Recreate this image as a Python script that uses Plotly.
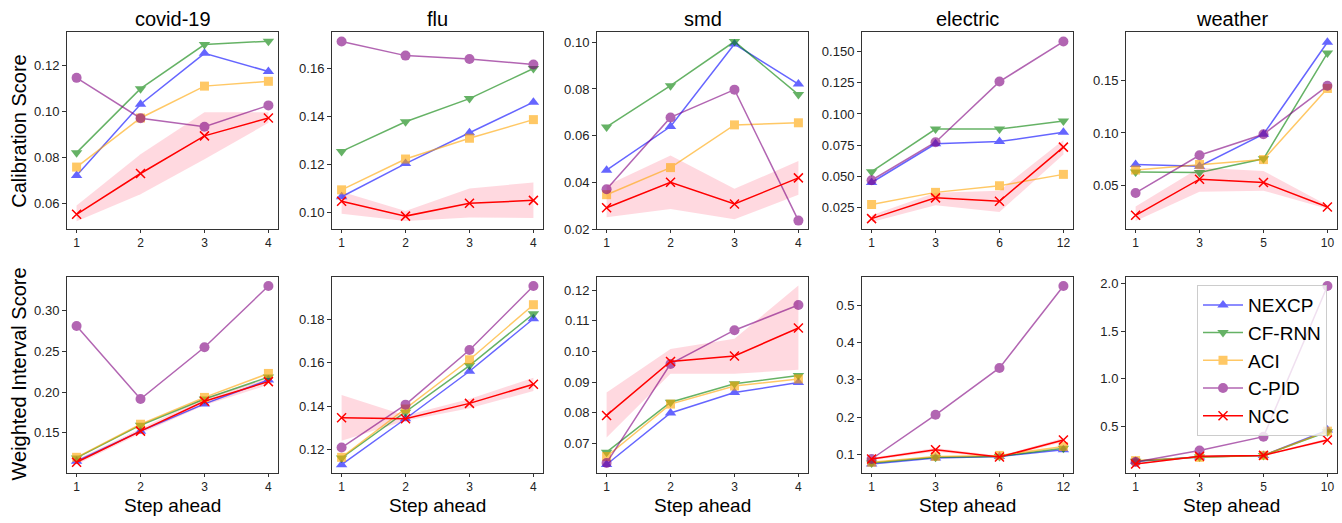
import plotly.graph_objects as go

# ---------------- data ----------------
datasets = ["covid-19", "flu", "smd", "electric", "weather"]
methods = ["NEXCP", "CF-RNN", "ACI", "C-PID", "NCC"]
steps = {
    "covid-19": ["1", "2", "3", "4"],
    "flu": ["1", "2", "3", "4"],
    "smd": ["1", "2", "3", "4"],
    "electric": ["1", "3", "6", "12"],
    "weather": ["1", "3", "5", "10"],
}

# Calibration score
cal_covid = {
    "NEXCP": [0.0720, 0.1031, 0.1253, 0.1174],
    "CF-RNN": [0.0820, 0.1099, 0.1291, 0.1306],
    "ACI": [0.0757, 0.0971, 0.1110, 0.1131],
    "C-PID": [0.1146, 0.0970, 0.0933, 0.1026],
    "NCC": [0.0551, 0.0729, 0.0893, 0.0971],
}
cal_covid_band_hi = [0.0589, 0.0813, 0.0996, 0.0996]
cal_covid_band_lo = [0.0521, 0.0639, 0.0791, 0.0950]

cal_flu = {
    "NEXCP": [0.1064, 0.1203, 0.1332, 0.1460],
    "CF-RNN": [0.1254, 0.1378, 0.1475, 0.1601],
    "ACI": [0.1093, 0.1222, 0.1309, 0.1387],
    "C-PID": [0.1714, 0.1655, 0.1641, 0.1618],
    "NCC": [0.1045, 0.0983, 0.1037, 0.1049],
}
cal_flu_band_hi = [0.1085, 0.1004, 0.1099, 0.1124]
cal_flu_band_lo = [0.0993, 0.0963, 0.0977, 0.0975]

cal_smd = {
    "NEXCP": [0.0452, 0.0639, 0.0992, 0.0821],
    "CF-RNN": [0.0637, 0.0814, 0.1003, 0.0776],
    "ACI": [0.0347, 0.0463, 0.0646, 0.0655],
    "C-PID": [0.0370, 0.0678, 0.0797, 0.0236],
    "NCC": [0.0291, 0.0400, 0.0307, 0.0419],
}
cal_smd_band_hi = [0.0386, 0.0515, 0.0372, 0.0491]
cal_smd_band_lo = [0.0250, 0.0286, 0.0242, 0.0347]

cal_electric = {
    "NEXCP": [0.0452, 0.0761, 0.0779, 0.0853],
    "CF-RNN": [0.0538, 0.0879, 0.0879, 0.0944],
    "ACI": [0.0276, 0.0373, 0.0426, 0.0517],
    "C-PID": [0.0470, 0.0774, 0.1259, 0.1579],
    "NCC": [0.0163, 0.0329, 0.0302, 0.0735],
}
cal_electric_band_hi = [0.0190, 0.0370, 0.0386, 0.0792]
cal_electric_band_lo = [0.0137, 0.0270, 0.0216, 0.0675]

cal_weather = {
    "NEXCP": [0.0702, 0.0686, 0.0988, 0.1860],
    "CF-RNN": [0.0630, 0.0625, 0.0755, 0.1758],
    "ACI": [0.0649, 0.0702, 0.0748, 0.1422],
    "C-PID": [0.0432, 0.0789, 0.0988, 0.1447],
    "NCC": [0.0220, 0.0562, 0.0531, 0.0298],
}
cal_weather_band_hi = [0.0304, 0.0670, 0.0640, 0.0314]
cal_weather_band_lo = [0.0165, 0.0444, 0.0453, 0.0283]

# Weighted interval score
wis_covid = {
    "NEXCP": [0.1149, 0.1520, 0.1855, 0.2149],
    "CF-RNN": [0.1190, 0.1593, 0.1915, 0.2185],
    "ACI": [0.1198, 0.1605, 0.1935, 0.2230],
    "C-PID": [0.2815, 0.1915, 0.2552, 0.3306],
    "NCC": [0.1137, 0.1520, 0.1887, 0.2129],
}
wis_covid_band_hi = [0.1170, 0.1550, 0.1930, 0.2170]
wis_covid_band_lo = [0.1110, 0.1490, 0.1840, 0.2090]

wis_flu = {
    "NEXCP": [0.1130, 0.1342, 0.1561, 0.1803],
    "CF-RNN": [0.1161, 0.1372, 0.1587, 0.1826],
    "ACI": [0.1164, 0.1387, 0.1614, 0.1868],
    "C-PID": [0.1209, 0.1407, 0.1659, 0.1954],
    "NCC": [0.1347, 0.1342, 0.1413, 0.1501],
}
wis_flu_band_hi = [0.1451, 0.1357, 0.1433, 0.1531]
wis_flu_band_lo = [0.1241, 0.1333, 0.1390, 0.1470]

wis_smd = {
    "NEXCP": [0.0631, 0.0799, 0.0866, 0.0898],
    "CF-RNN": [0.0671, 0.0834, 0.0894, 0.0921],
    "ACI": [0.0657, 0.0828, 0.0887, 0.0910],
    "C-PID": [0.0636, 0.0959, 0.1069, 0.1151],
    "NCC": [0.0791, 0.0967, 0.0985, 0.1076],
}
wis_smd_band_hi = [0.0866, 0.1008, 0.1041, 0.1215]
wis_smd_band_lo = [0.0719, 0.0927, 0.0927, 0.0940]

wis_electric = {
    "NEXCP": [0.0755, 0.0912, 0.0956, 0.1131],
    "CF-RNN": [0.0781, 0.0934, 0.0956, 0.1175],
    "ACI": [0.0799, 0.0956, 0.0982, 0.1219],
    "C-PID": [0.0886, 0.2068, 0.3319, 0.5508],
    "NCC": [0.0886, 0.1131, 0.0939, 0.1394],
}
wis_electric_band_hi = [0.0920, 0.1180, 0.0970, 0.1450]
wis_electric_band_lo = [0.0850, 0.1080, 0.0910, 0.1340]

wis_weather = {
    "NEXCP": [0.131, 0.176, 0.193, 0.459],
    "CF-RNN": [0.131, 0.176, 0.193, 0.441],
    "ACI": [0.138, 0.172, 0.193, 0.448],
    "C-PID": [0.124, 0.245, 0.390, 1.976],
    "NCC": [0.103, 0.183, 0.193, 0.355],
}
wis_weather_band_hi = [0.110, 0.190, 0.200, 0.370]
wis_weather_band_lo = [0.095, 0.176, 0.186, 0.340]

cal_data = [cal_covid, cal_flu, cal_smd, cal_electric, cal_weather]
cal_bands = [(cal_covid_band_lo, cal_covid_band_hi), (cal_flu_band_lo, cal_flu_band_hi),
             (cal_smd_band_lo, cal_smd_band_hi), (cal_electric_band_lo, cal_electric_band_hi),
             (cal_weather_band_lo, cal_weather_band_hi)]
wis_data = [wis_covid, wis_flu, wis_smd, wis_electric, wis_weather]
wis_bands = [(wis_covid_band_lo, wis_covid_band_hi), (wis_flu_band_lo, wis_flu_band_hi),
             (wis_smd_band_lo, wis_smd_band_hi), (wis_electric_band_lo, wis_electric_band_hi),
             (wis_weather_band_lo, wis_weather_band_hi)]

# ---------------- styling ----------------
W, H = 1342, 523
FONT = "Liberation Sans, Arial, sans-serif"
style = {
    "NEXCP": dict(color="rgb(0,0,255)", symbol="triangle-up", opacity=0.6, size=10),
    "CF-RNN": dict(color="rgb(0,128,0)", symbol="triangle-down", opacity=0.6, size=10),
    "ACI": dict(color="rgb(255,165,0)", symbol="square", opacity=0.6, size=9),
    "C-PID": dict(color="rgb(128,0,128)", symbol="circle", opacity=0.6, size=10),
    "NCC": dict(color="rgb(255,0,0)", symbol="x-thin", opacity=1.0, size=9),
}

col_px = [(67, 278), (332, 543), (597, 808), (862, 1073), (1126, 1337)]
row_px = [(32, 232), (281, 480)]

cal_axes = [
    dict(range=[0.0487, 0.1344], dtick=0.02, fmt=".2f"),
    dict(range=[0.0929, 0.1752], dtick=0.02, fmt=".2f"),
    dict(range=[0.0200, 0.1042], dtick=0.02, fmt=".2f"),
    dict(range=[0.0080, 0.1652], dtick=0.025, fmt=".3f"),
    dict(range=[0.0090, 0.1953], dtick=0.05, fmt=".2f"),
]
wis_axes = [
    dict(range=[0.1008, 0.3415], dtick=0.05, fmt=".2f"),
    dict(range=[0.1093, 0.1995], dtick=0.02, fmt=".2f"),
    dict(range=[0.0604, 0.1242], dtick=0.01, fmt=".2f"),
    dict(range=[0.0519, 0.5744], dtick=0.1, fmt=".1f"),
    dict(range=[0.0103, 2.0690], dtick=0.5, fmt=".1f"),
]

fig = go.Figure()
layout = {}
idx = 0
for r, (rows_data, rows_bands, rows_axes) in enumerate(
        [(cal_data, cal_bands, cal_axes), (wis_data, wis_bands, wis_axes)]):
    for c, ds in enumerate(datasets):
        idx += 1
        xa = "x" if idx == 1 else f"x{idx}"
        ya = "y" if idx == 1 else f"y{idx}"
        xs = list(range(len(steps[ds])))
        data = rows_data[c]
        lo, hi = rows_bands[c]
        fig.add_trace(go.Scatter(
            x=xs + xs[::-1], y=hi + lo[::-1], fill="toself",
            fillcolor="rgba(255,192,203,0.6)", line=dict(width=0),
            mode="lines", hoverinfo="skip", showlegend=False, xaxis=xa, yaxis=ya))
        for m in methods:
            s = style[m]
            if m == "NCC":
                marker = dict(symbol=s["symbol"], size=s["size"], color=s["color"],
                              line=dict(color=s["color"], width=1.5))
            else:
                marker = dict(symbol=s["symbol"], size=s["size"], color=s["color"],
                              line=dict(width=0))
            fig.add_trace(go.Scatter(
                x=xs, y=data[m], mode="lines+markers", name=m,
                line=dict(color=s["color"], width=1.5), marker=marker,
                opacity=s["opacity"], showlegend=(idx == 10), legendgroup=m,
                xaxis=xa, yaxis=ya))
        x0, x1 = col_px[c]
        y0, y1 = row_px[r]
        ax = rows_axes[c]
        key_x = "xaxis" if idx == 1 else f"xaxis{idx}"
        key_y = "yaxis" if idx == 1 else f"yaxis{idx}"
        layout[key_x] = dict(
            domain=[x0 / W, x1 / W], anchor=ya, range=[-0.15, len(xs) - 1 + 0.15],
            tickvals=xs, ticktext=steps[ds], showgrid=False, zeroline=False,
            showline=True, mirror=True, linecolor="#333333", linewidth=1,
            ticks="outside", ticklen=3, tickcolor="#333333",
            tickfont=dict(family=FONT, size=12, color="#222222"))
        layout[key_y] = dict(
            domain=[1 - y1 / H, 1 - y0 / H], anchor=xa, range=ax["range"],
            dtick=ax["dtick"], tick0=0, tickformat=ax["fmt"], showgrid=False,
            zeroline=False, showline=True, mirror=True, linecolor="#333333",
            linewidth=1, ticks="outside", ticklen=4, tickcolor="#333333",
            tickfont=dict(family=FONT, size=13, color="#222222"))

annotations = []
for c, ds in enumerate(datasets):
    x0, x1 = col_px[c]
    annotations.append(dict(text=ds, x=(x0 + x1) / 2 / W, y=1 - 18 / H, xref="paper",
                            yref="paper", showarrow=False, xanchor="center", yanchor="middle",
                            font=dict(family=FONT, size=20, color="black")))
    annotations.append(dict(text="Step ahead", x=(x0 + x1) / 2 / W, y=0, xref="paper",
                            yref="paper", showarrow=False, xanchor="center",
                            yanchor="bottom", yshift=-2, borderpad=0,
                            font=dict(family=FONT, size=19, color="black")))
annotations.append(dict(text="Calibration Score", x=19 / W, y=1 - 133 / H, xref="paper",
                        yref="paper", showarrow=False, textangle=-90, xanchor="center",
                        yanchor="middle", font=dict(family=FONT, size=20, color="black")))
annotations.append(dict(text="Weighted Interval Score", x=19 / W, y=1 - 380 / H, xref="paper",
                        yref="paper", showarrow=False, textangle=-90, xanchor="center",
                        yanchor="middle", font=dict(family=FONT, size=20, color="black")))

fig.update_layout(
    width=W, height=H, margin=dict(l=0, r=0, t=0, b=0),
    plot_bgcolor="white", paper_bgcolor="white",
    annotations=annotations,
    legend=dict(x=1327 / W, y=1 - 289 / H, xanchor="right", yanchor="top",
                bgcolor="rgba(255,255,255,0.8)", bordercolor="#cccccc", borderwidth=1,
                font=dict(family=FONT, size=19, color="black"), tracegroupgap=0,
                itemwidth=40),
    **layout,
)

fig.write_html("out.html", config={"displayModeBar": False},
               post_script="document.body.style.margin='0px';document.body.style.overflow='hidden';")
